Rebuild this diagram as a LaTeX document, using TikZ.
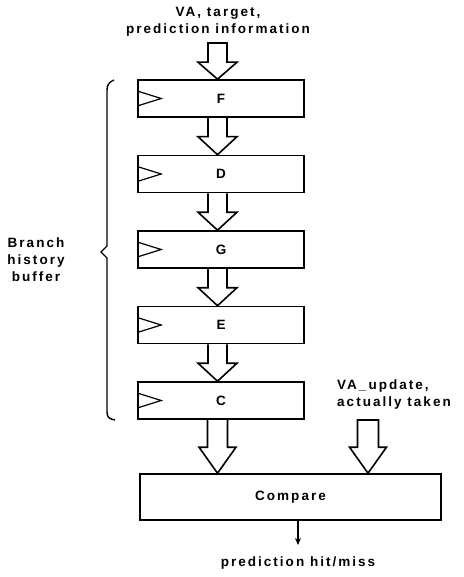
\documentclass[tikz,border=0pt]{standalone}
\usepackage{fontspec}
\setmainfont{Liberation Sans}[LetterSpace=15]
\usetikzlibrary{calc,arrows.meta}
\tikzset{
  reg/.style={draw, line width=1.6pt, minimum width=166pt, minimum height=37pt, inner sep=0pt, font=\fontsize{13.5}{14}\selectfont\bfseries},
  cmpbox/.style={draw, line width=1.6pt, minimum width=301pt, minimum height=46pt, inner sep=0pt, font=\fontsize{13.5}{14}\selectfont\bfseries},
  arrowline/.style={draw, line width=1.6pt, line join=miter},
  lbl/.style={font=\fontsize{13.5}{17}\selectfont\bfseries, inner sep=0pt},
  clk/.style={line width=1.2pt},
  bracel/.style={line width=1.4pt},
  outarrow/.style={line width=1.1pt, -{Stealth[length=7pt,width=6pt]}}
}
% from, to, shaft half-width, head half-width, head length, closing
\newcommand\blockarrow[6]{%
  \draw[arrowline] let \p1=(#1), \p2=(#2) in
    (\x1-#3,\y1) -- (\x1-#3,\y2+#5) -- (\x1-#4,\y2+#5) -- (\x2,\y2)
    -- (\x1+#4,\y2+#5) -- (\x1+#3,\y2+#5) -- (\x1+#3,\y1) #6;}
\begin{document}
\begin{tikzpicture}[x=1pt,y=-1pt]
\useasboundingbox (0,0) rectangle (463,577);
\coordinate (ax) at (217.5,0);
\node[reg] (F) at (221,98.5) {F};
\node[reg] (D) at (221,174) {D};
\node[reg] (G) at (221,249.5) {G};
\node[reg] (E) at (221,325) {E};
\node[reg] (C) at (221,400.5) {C};
\node[cmpbox] (cmp) at (290.5,497) {Compare};
\foreach \b in {F,D,G,E,C}{
  \draw[clk] ($(\b.west)+(0,-7.5)$) -- ++(24,7.5) -- ++(-24,7.5);
}
% top input
\node[lbl, align=center] (toplbl) at (218,21.5) {VA, target,\\prediction information};
\coordinate (in) at (217.5,43);
\blockarrow{in}{F.north -| ax}{9.5pt}{19.5pt}{17pt}{-- cycle}
\blockarrow{F.south -| ax}{D.north -| ax}{9.5pt}{19.5pt}{18pt}{}
\blockarrow{D.south -| ax}{G.north -| ax}{9.5pt}{19.5pt}{18pt}{}
\blockarrow{G.south -| ax}{E.north -| ax}{9.5pt}{19.5pt}{18pt}{}
\blockarrow{E.south -| ax}{C.north -| ax}{9.5pt}{19.5pt}{18pt}{}
\blockarrow{C.south -| ax}{cmp.north -| ax}{10pt}{18.5pt}{26pt}{}
% update input
\node[lbl, align=left, anchor=west] (updlbl) at (337,395) {VA\_update,\\actually taken};
\coordinate (upd) at (368,420);
\blockarrow{upd}{cmp.north -| upd}{10.5pt}{18.5pt}{26pt}{-- cycle}
% output
\coordinate (out) at (298,545);
\draw[outarrow] (cmp.south -| out) -- (out);
\node[lbl] (outlbl) at (298,563) {prediction hit/miss};
% brace
\draw[bracel] (114,80) .. controls (109,82) and (107,85) .. (107,90)
  -- (107,246) -- (101,252) -- (107,258) -- (107,412)
  .. controls (107,417) and (109,419) .. (115,420);
\node[lbl, align=center] (bhb) at (36,260) {Branch\\history\\buffer};
\end{tikzpicture}
\end{document}
